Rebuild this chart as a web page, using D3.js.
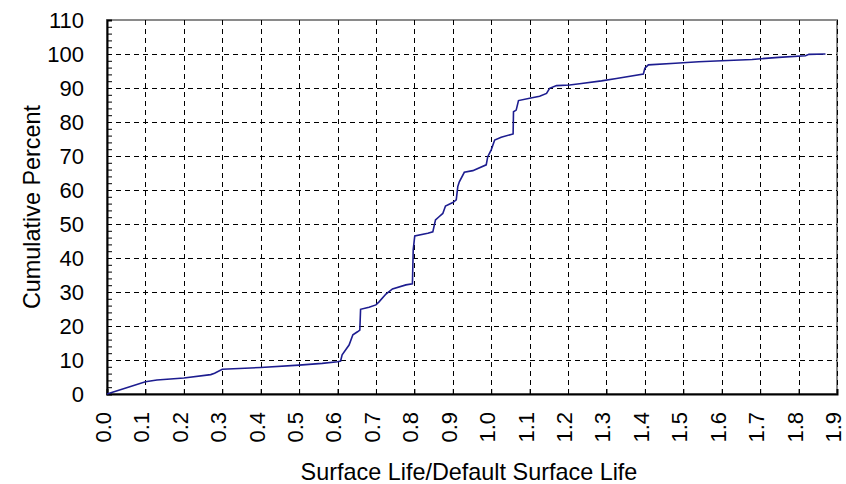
<!DOCTYPE html>
<html>
<head>
<meta charset="utf-8">
<script src="https://cdn.jsdelivr.net/npm/d3@7"></script>
<style>
    body { margin: 0; background: #fff; }
    text { font-family: "Liberation Sans", Arial, sans-serif; fill: #000; }
</style>
</head>
<body>
<div id="chart"></div>
<script>
// surface life ratio (x) and cumulative percent (y)
const surfaceLife = [0.00, 0.10, 0.13, 0.20, 0.27, 0.28, 0.30, 0.40, 0.50, 0.56, 0.60,
    0.608, 0.612, 0.63, 0.64, 0.652, 0.658, 0.660, 0.682, 0.700, 0.708, 0.726, 0.743,
    0.778, 0.795, 0.797, 0.801, 0.835, 0.848, 0.855, 0.865, 0.874, 0.881, 0.900, 0.909,
    0.913, 0.917, 0.930, 0.952, 0.987, 0.991, 1.000, 1.009, 1.026, 1.057, 1.058, 1.065,
    1.071, 1.100, 1.126, 1.144, 1.152, 1.170, 1.204, 1.235, 1.287, 1.326, 1.396, 1.400,
    1.409, 1.479, 1.540, 1.600, 1.679, 1.748, 1.818, 1.827, 1.870];
const cumPercent = [0.0, 3.6, 4.1, 4.7, 5.7, 6.1, 7.3, 7.8, 8.5, 9.0, 9.5,
    9.7, 11.5, 14.4, 17.4, 18.3, 18.8, 24.9, 25.5, 26.2, 27.1, 29.4, 30.9,
    32.1, 32.4, 42.4, 46.5, 47.3, 47.7, 51.2, 52.2, 53.1, 55.3, 56.3, 57.1,
    61.0, 62.4, 65.2, 65.7, 67.4, 69.8, 71.8, 74.7, 75.5, 76.5, 83.0, 83.5,
    86.3, 87.0, 87.6, 88.4, 89.9, 90.7, 90.9, 91.3, 92.1, 92.8, 94.1, 95.8,
    96.8, 97.3, 97.7, 98.0, 98.4, 99.0, 99.5, 99.9, 100.0];
const xTicks = d3.range(0, 20).map(i => i / 10);
const yTicks = d3.range(0, 120, 10);
const yMinorTicks = d3.range(0, 112, 2);

const width = 846;
const height = 484;
const margin = {top: 20, right: 9, bottom: 90, left: 107};

const x = d3.scaleLinear()
    .domain([0, 1.9])
    .range([margin.left, width - margin.right]);
const y = d3.scaleLinear()
    .domain([0, 110])
    .range([height - margin.bottom, margin.top]);

const svg = d3.select('#chart').append('svg')
    .attr('width', width)
    .attr('height', height);

// frame (top/right grey)
svg.append('rect')
    .attr('x', x(0))
    .attr('y', y(110))
    .attr('width', x(1.9) - x(0))
    .attr('height', y(0) - y(110))
    .attr('fill', 'none')
    .attr('stroke', '#8a8a8a')
    .attr('stroke-width', 2);

// dashed grid
svg.append('g')
    .attr('shape-rendering', 'crispEdges')
    .selectAll('line')
    .data(yTicks.slice(1, -1))
    .join('line')
    .attr('x1', x(0)).attr('x2', x(1.9))
    .attr('y1', d => Math.round(y(d)) + 0.5).attr('y2', d => Math.round(y(d)) + 0.5)
    .attr('stroke', '#000')
    .attr('stroke-dasharray', '5,4');
svg.append('g')
    .attr('shape-rendering', 'crispEdges')
    .selectAll('line')
    .data(xTicks.slice(1))
    .join('line')
    .attr('x1', d => Math.round(x(d)) + 0.5).attr('x2', d => Math.round(x(d)) + 0.5)
    .attr('y1', y(110)).attr('y2', y(0))
    .attr('stroke', '#000')
    .attr('stroke-dasharray', '5,4');

// y axis, ticks pointing inward
const yAxis = g => g
    .attr('transform', `translate(${x(0)},0)`)
    .call(d3.axisRight(y).tickValues(yMinorTicks).tickSize(5).tickFormat(''))
    .call(g => g.selectAll('.tick line').attr('stroke', '#000'))
    .call(g => g.select('.domain').attr('stroke', '#000').attr('stroke-width', 2));
svg.append('g').call(yAxis);

svg.append('g')
    .selectAll('text')
    .data(yTicks)
    .join('text')
    .attr('x', x(0) - 23)
    .attr('y', d => y(d))
    .attr('dy', '0.36em')
    .attr('text-anchor', 'end')
    .attr('font-size', 22)
    .text(d => d);

// x axis, ticks pointing inward
const xAxis = g => g
    .attr('transform', `translate(0,${y(0)})`)
    .call(d3.axisTop(x).tickValues(xTicks).tickSize(5).tickFormat(''))
    .call(g => g.select('.domain').attr('stroke', '#000').attr('stroke-width', 2));
svg.append('g').call(xAxis);

svg.append('g')
    .selectAll('text')
    .data(xTicks)
    .join('text')
    .attr('transform', d => `translate(${x(d)},${y(0) + 18}) rotate(-90)`)
    .attr('dy', '0.18em')
    .attr('text-anchor', 'end')
    .attr('font-size', 22)
    .text(d => d.toFixed(1));

// curve
const line = d3.line()
    .x((d, i) => x(surfaceLife[i]))
    .y(d => y(d));
svg.append('path')
    .datum(cumPercent)
    .attr('fill', 'none')
    .attr('stroke', '#1d1d90')
    .attr('stroke-width', 1.6)
    .attr('d', line);

// axis titles
svg.append('text')
    .attr('x', (x(0) + x(1.9)) / 2 - 3)
    .attr('y', 480)
    .attr('text-anchor', 'middle')
    .attr('font-size', 23.4)
    .text('Surface Life/Default Surface Life');

svg.append('text')
    .attr('transform', `translate(40,${(y(0) + y(110)) / 2}) rotate(-90)`)
    .attr('text-anchor', 'middle')
    .attr('font-size', 23.4)
    .text('Cumulative Percent');
</script>
</body>
</html>
